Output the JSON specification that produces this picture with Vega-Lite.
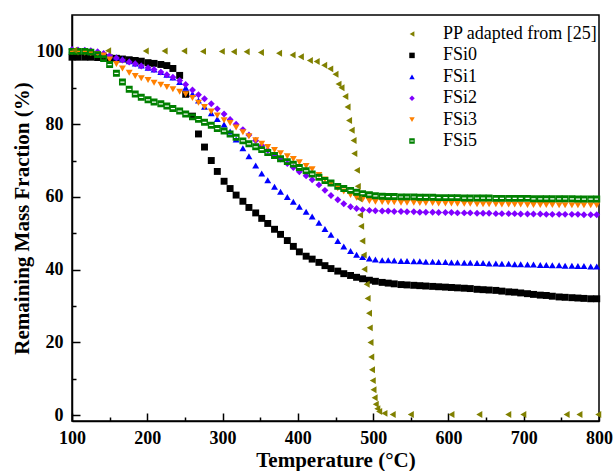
{
  "$schema": "https://vega.github.io/schema/vega-lite/v6.json",
  "autosize": {"type": "none"},
  "width": 527,
  "height": 406,
  "padding": {"left": 72, "top": 15, "right": 14, "bottom": 50},
  "background": "white",
  "config": {
    "font": "Liberation Serif",
    "view": {"stroke": "black", "strokeWidth": 1.5},
    "axis": {"grid": false, "domainColor": "black", "domainWidth": 1.5, "tickColor": "black", "tickWidth": 1.5, "labelColor": "black", "titleColor": "black", "labelFont": "Liberation Serif", "titleFont": "Liberation Serif", "labelFontWeight": "bold", "titleFontWeight": "bold", "labelFontSize": 18, "labelOverlap": false, "labelFlush": false}
  },
  "data": {"values": [
{"s":"FSi0","t":100,"m":98.4},{"s":"FSi0","t":108,"m":98.4},{"s":"FSi0","t":117,"m":98.4},{"s":"FSi0","t":125,"m":98.4},{"s":"FSi0","t":134,"m":98.3},{"s":"FSi0","t":142,"m":98.3},{"s":"FSi0","t":150,"m":98.2},{"s":"FSi0","t":159,"m":98.1},{"s":"FSi0","t":167,"m":97.9},{"s":"FSi0","t":176,"m":97.7},{"s":"FSi0","t":184,"m":97.5},{"s":"FSi0","t":192,"m":97.3},{"s":"FSi0","t":201,"m":96.9},{"s":"FSi0","t":209,"m":96.7},{"s":"FSi0","t":218,"m":96.4},{"s":"FSi0","t":226,"m":96.1},{"s":"FSi0","t":234,"m":95.3},{"s":"FSi0","t":243,"m":93.4},{"s":"FSi0","t":251,"m":88.2},{"s":"FSi0","t":260,"m":82.2},{"s":"FSi0","t":268,"m":77.3},{"s":"FSi0","t":276,"m":73.7},{"s":"FSi0","t":285,"m":70.0},{"s":"FSi0","t":293,"m":67.0},{"s":"FSi0","t":302,"m":64.3},{"s":"FSi0","t":310,"m":62.3},{"s":"FSi0","t":318,"m":60.5},{"s":"FSi0","t":327,"m":58.8},{"s":"FSi0","t":335,"m":57.1},{"s":"FSi0","t":344,"m":55.6},{"s":"FSi0","t":352,"m":54.1},{"s":"FSi0","t":360,"m":52.7},{"s":"FSi0","t":369,"m":51.1},{"s":"FSi0","t":377,"m":49.7},{"s":"FSi0","t":386,"m":48.0},{"s":"FSi0","t":394,"m":46.4},{"s":"FSi0","t":402,"m":44.9},{"s":"FSi0","t":411,"m":43.7},{"s":"FSi0","t":419,"m":42.9},{"s":"FSi0","t":428,"m":42.0},{"s":"FSi0","t":436,"m":41.1},{"s":"FSi0","t":444,"m":40.3},{"s":"FSi0","t":453,"m":39.6},{"s":"FSi0","t":461,"m":38.9},{"s":"FSi0","t":470,"m":38.4},{"s":"FSi0","t":478,"m":37.9},{"s":"FSi0","t":486,"m":37.5},{"s":"FSi0","t":495,"m":37.1},{"s":"FSi0","t":503,"m":36.8},{"s":"FSi0","t":512,"m":36.5},{"s":"FSi0","t":520,"m":36.3},{"s":"FSi0","t":528,"m":36.1},{"s":"FSi0","t":537,"m":35.9},{"s":"FSi0","t":545,"m":35.8},{"s":"FSi0","t":554,"m":35.7},{"s":"FSi0","t":562,"m":35.6},{"s":"FSi0","t":570,"m":35.5},{"s":"FSi0","t":579,"m":35.4},{"s":"FSi0","t":587,"m":35.3},{"s":"FSi0","t":596,"m":35.2},{"s":"FSi0","t":604,"m":35.1},{"s":"FSi0","t":612,"m":35.0},{"s":"FSi0","t":621,"m":34.9},{"s":"FSi0","t":629,"m":34.8},{"s":"FSi0","t":638,"m":34.6},{"s":"FSi0","t":646,"m":34.5},{"s":"FSi0","t":654,"m":34.4},{"s":"FSi0","t":663,"m":34.3},{"s":"FSi0","t":671,"m":34.1},{"s":"FSi0","t":680,"m":33.9},{"s":"FSi0","t":688,"m":33.8},{"s":"FSi0","t":696,"m":33.6},{"s":"FSi0","t":705,"m":33.4},{"s":"FSi0","t":713,"m":33.2},{"s":"FSi0","t":722,"m":33.0},{"s":"FSi0","t":730,"m":32.9},{"s":"FSi0","t":738,"m":32.7},{"s":"FSi0","t":747,"m":32.5},{"s":"FSi0","t":755,"m":32.4},{"s":"FSi0","t":764,"m":32.3},{"s":"FSi0","t":772,"m":32.2},{"s":"FSi0","t":780,"m":32.1},{"s":"FSi0","t":789,"m":32.0},{"s":"FSi0","t":797,"m":32.0},
{"s":"FSi1","t":100,"m":100.5},{"s":"FSi1","t":108,"m":100.4},{"s":"FSi1","t":117,"m":100.3},{"s":"FSi1","t":125,"m":100.1},{"s":"FSi1","t":134,"m":99.8},{"s":"FSi1","t":142,"m":99.4},{"s":"FSi1","t":150,"m":98.9},{"s":"FSi1","t":159,"m":98.4},{"s":"FSi1","t":167,"m":97.9},{"s":"FSi1","t":176,"m":97.3},{"s":"FSi1","t":184,"m":96.7},{"s":"FSi1","t":192,"m":96.1},{"s":"FSi1","t":201,"m":95.5},{"s":"FSi1","t":209,"m":95.0},{"s":"FSi1","t":218,"m":94.3},{"s":"FSi1","t":226,"m":93.6},{"s":"FSi1","t":234,"m":92.8},{"s":"FSi1","t":243,"m":91.6},{"s":"FSi1","t":251,"m":90.0},{"s":"FSi1","t":260,"m":88.3},{"s":"FSi1","t":268,"m":86.5},{"s":"FSi1","t":276,"m":84.8},{"s":"FSi1","t":285,"m":83.0},{"s":"FSi1","t":293,"m":81.4},{"s":"FSi1","t":302,"m":79.9},{"s":"FSi1","t":310,"m":78.0},{"s":"FSi1","t":318,"m":75.8},{"s":"FSi1","t":327,"m":73.4},{"s":"FSi1","t":335,"m":71.2},{"s":"FSi1","t":344,"m":68.6},{"s":"FSi1","t":352,"m":66.4},{"s":"FSi1","t":360,"m":64.6},{"s":"FSi1","t":369,"m":62.8},{"s":"FSi1","t":377,"m":61.4},{"s":"FSi1","t":386,"m":60.0},{"s":"FSi1","t":394,"m":58.7},{"s":"FSi1","t":402,"m":57.3},{"s":"FSi1","t":411,"m":55.9},{"s":"FSi1","t":419,"m":54.6},{"s":"FSi1","t":428,"m":52.9},{"s":"FSi1","t":436,"m":51.2},{"s":"FSi1","t":444,"m":49.6},{"s":"FSi1","t":453,"m":47.9},{"s":"FSi1","t":461,"m":46.4},{"s":"FSi1","t":470,"m":45.1},{"s":"FSi1","t":478,"m":44.1},{"s":"FSi1","t":486,"m":43.5},{"s":"FSi1","t":495,"m":43.1},{"s":"FSi1","t":503,"m":42.8},{"s":"FSi1","t":512,"m":42.6},{"s":"FSi1","t":520,"m":42.6},{"s":"FSi1","t":528,"m":42.5},{"s":"FSi1","t":537,"m":42.4},{"s":"FSi1","t":545,"m":42.4},{"s":"FSi1","t":554,"m":42.3},{"s":"FSi1","t":562,"m":42.3},{"s":"FSi1","t":570,"m":42.2},{"s":"FSi1","t":579,"m":42.2},{"s":"FSi1","t":587,"m":42.1},{"s":"FSi1","t":596,"m":42.1},{"s":"FSi1","t":604,"m":42.0},{"s":"FSi1","t":612,"m":42.0},{"s":"FSi1","t":621,"m":41.9},{"s":"FSi1","t":629,"m":41.9},{"s":"FSi1","t":638,"m":41.8},{"s":"FSi1","t":646,"m":41.8},{"s":"FSi1","t":654,"m":41.7},{"s":"FSi1","t":663,"m":41.7},{"s":"FSi1","t":671,"m":41.6},{"s":"FSi1","t":680,"m":41.6},{"s":"FSi1","t":688,"m":41.5},{"s":"FSi1","t":696,"m":41.5},{"s":"FSi1","t":705,"m":41.4},{"s":"FSi1","t":713,"m":41.4},{"s":"FSi1","t":722,"m":41.3},{"s":"FSi1","t":730,"m":41.3},{"s":"FSi1","t":738,"m":41.2},{"s":"FSi1","t":747,"m":41.2},{"s":"FSi1","t":755,"m":41.1},{"s":"FSi1","t":764,"m":41.1},{"s":"FSi1","t":772,"m":41.0},{"s":"FSi1","t":780,"m":41.0},{"s":"FSi1","t":789,"m":40.9},{"s":"FSi1","t":797,"m":40.9},
{"s":"FSi2","t":100,"m":100.5},{"s":"FSi2","t":108,"m":100.4},{"s":"FSi2","t":117,"m":100.3},{"s":"FSi2","t":125,"m":100.2},{"s":"FSi2","t":134,"m":99.9},{"s":"FSi2","t":142,"m":99.4},{"s":"FSi2","t":150,"m":98.8},{"s":"FSi2","t":159,"m":98.2},{"s":"FSi2","t":167,"m":97.6},{"s":"FSi2","t":176,"m":97.1},{"s":"FSi2","t":184,"m":96.6},{"s":"FSi2","t":192,"m":96.0},{"s":"FSi2","t":201,"m":95.5},{"s":"FSi2","t":209,"m":95.0},{"s":"FSi2","t":218,"m":94.3},{"s":"FSi2","t":226,"m":93.6},{"s":"FSi2","t":234,"m":92.9},{"s":"FSi2","t":243,"m":92.0},{"s":"FSi2","t":251,"m":90.9},{"s":"FSi2","t":260,"m":89.4},{"s":"FSi2","t":268,"m":88.1},{"s":"FSi2","t":276,"m":87.0},{"s":"FSi2","t":285,"m":85.6},{"s":"FSi2","t":293,"m":84.2},{"s":"FSi2","t":302,"m":82.8},{"s":"FSi2","t":310,"m":81.3},{"s":"FSi2","t":318,"m":80.0},{"s":"FSi2","t":327,"m":78.5},{"s":"FSi2","t":335,"m":77.0},{"s":"FSi2","t":344,"m":75.5},{"s":"FSi2","t":352,"m":74.1},{"s":"FSi2","t":360,"m":72.8},{"s":"FSi2","t":369,"m":71.6},{"s":"FSi2","t":377,"m":70.4},{"s":"FSi2","t":386,"m":69.2},{"s":"FSi2","t":394,"m":68.1},{"s":"FSi2","t":402,"m":66.9},{"s":"FSi2","t":411,"m":65.8},{"s":"FSi2","t":419,"m":64.7},{"s":"FSi2","t":428,"m":63.3},{"s":"FSi2","t":436,"m":61.8},{"s":"FSi2","t":444,"m":60.4},{"s":"FSi2","t":453,"m":59.2},{"s":"FSi2","t":461,"m":58.1},{"s":"FSi2","t":470,"m":57.3},{"s":"FSi2","t":478,"m":56.8},{"s":"FSi2","t":486,"m":56.5},{"s":"FSi2","t":495,"m":56.3},{"s":"FSi2","t":503,"m":56.2},{"s":"FSi2","t":512,"m":56.1},{"s":"FSi2","t":520,"m":56.1},{"s":"FSi2","t":528,"m":56.0},{"s":"FSi2","t":537,"m":56.0},{"s":"FSi2","t":545,"m":55.9},{"s":"FSi2","t":554,"m":55.9},{"s":"FSi2","t":562,"m":55.8},{"s":"FSi2","t":570,"m":55.8},{"s":"FSi2","t":579,"m":55.8},{"s":"FSi2","t":587,"m":55.7},{"s":"FSi2","t":596,"m":55.7},{"s":"FSi2","t":604,"m":55.7},{"s":"FSi2","t":612,"m":55.6},{"s":"FSi2","t":621,"m":55.6},{"s":"FSi2","t":629,"m":55.6},{"s":"FSi2","t":638,"m":55.5},{"s":"FSi2","t":646,"m":55.5},{"s":"FSi2","t":654,"m":55.5},{"s":"FSi2","t":663,"m":55.4},{"s":"FSi2","t":671,"m":55.4},{"s":"FSi2","t":680,"m":55.4},{"s":"FSi2","t":688,"m":55.4},{"s":"FSi2","t":696,"m":55.3},{"s":"FSi2","t":705,"m":55.3},{"s":"FSi2","t":713,"m":55.3},{"s":"FSi2","t":722,"m":55.3},{"s":"FSi2","t":730,"m":55.2},{"s":"FSi2","t":738,"m":55.2},{"s":"FSi2","t":747,"m":55.2},{"s":"FSi2","t":755,"m":55.2},{"s":"FSi2","t":764,"m":55.2},{"s":"FSi2","t":772,"m":55.2},{"s":"FSi2","t":780,"m":55.1},{"s":"FSi2","t":789,"m":55.1},{"s":"FSi2","t":797,"m":55.1},
{"s":"FSi3","t":100,"m":99.8},{"s":"FSi3","t":108,"m":99.7},{"s":"FSi3","t":117,"m":99.6},{"s":"FSi3","t":125,"m":99.5},{"s":"FSi3","t":134,"m":99.3},{"s":"FSi3","t":142,"m":98.9},{"s":"FSi3","t":150,"m":97.8},{"s":"FSi3","t":159,"m":96.5},{"s":"FSi3","t":167,"m":95.3},{"s":"FSi3","t":176,"m":94.1},{"s":"FSi3","t":184,"m":93.2},{"s":"FSi3","t":192,"m":92.6},{"s":"FSi3","t":201,"m":92.1},{"s":"FSi3","t":209,"m":91.4},{"s":"FSi3","t":218,"m":90.8},{"s":"FSi3","t":226,"m":90.2},{"s":"FSi3","t":234,"m":89.6},{"s":"FSi3","t":243,"m":88.9},{"s":"FSi3","t":251,"m":88.2},{"s":"FSi3","t":260,"m":87.2},{"s":"FSi3","t":268,"m":85.9},{"s":"FSi3","t":276,"m":84.7},{"s":"FSi3","t":285,"m":83.5},{"s":"FSi3","t":293,"m":82.4},{"s":"FSi3","t":302,"m":81.1},{"s":"FSi3","t":310,"m":80.3},{"s":"FSi3","t":318,"m":79.1},{"s":"FSi3","t":327,"m":77.8},{"s":"FSi3","t":335,"m":76.7},{"s":"FSi3","t":344,"m":75.6},{"s":"FSi3","t":352,"m":74.6},{"s":"FSi3","t":360,"m":73.7},{"s":"FSi3","t":369,"m":72.9},{"s":"FSi3","t":377,"m":72.0},{"s":"FSi3","t":386,"m":71.2},{"s":"FSi3","t":394,"m":70.4},{"s":"FSi3","t":402,"m":69.5},{"s":"FSi3","t":411,"m":68.5},{"s":"FSi3","t":419,"m":67.6},{"s":"FSi3","t":428,"m":66.0},{"s":"FSi3","t":436,"m":64.8},{"s":"FSi3","t":444,"m":63.6},{"s":"FSi3","t":453,"m":62.4},{"s":"FSi3","t":461,"m":61.5},{"s":"FSi3","t":470,"m":60.5},{"s":"FSi3","t":478,"m":59.8},{"s":"FSi3","t":486,"m":59.3},{"s":"FSi3","t":495,"m":58.9},{"s":"FSi3","t":503,"m":58.7},{"s":"FSi3","t":512,"m":58.6},{"s":"FSi3","t":520,"m":58.5},{"s":"FSi3","t":528,"m":58.5},{"s":"FSi3","t":537,"m":58.4},{"s":"FSi3","t":545,"m":58.4},{"s":"FSi3","t":554,"m":58.4},{"s":"FSi3","t":562,"m":58.3},{"s":"FSi3","t":570,"m":58.3},{"s":"FSi3","t":579,"m":58.3},{"s":"FSi3","t":587,"m":58.2},{"s":"FSi3","t":596,"m":58.2},{"s":"FSi3","t":604,"m":58.2},{"s":"FSi3","t":612,"m":58.1},{"s":"FSi3","t":621,"m":58.1},{"s":"FSi3","t":629,"m":58.1},{"s":"FSi3","t":638,"m":58.0},{"s":"FSi3","t":646,"m":58.0},{"s":"FSi3","t":654,"m":58.0},{"s":"FSi3","t":663,"m":58.0},{"s":"FSi3","t":671,"m":57.9},{"s":"FSi3","t":680,"m":57.9},{"s":"FSi3","t":688,"m":57.9},{"s":"FSi3","t":696,"m":57.9},{"s":"FSi3","t":705,"m":57.8},{"s":"FSi3","t":713,"m":57.8},{"s":"FSi3","t":722,"m":57.8},{"s":"FSi3","t":730,"m":57.8},{"s":"FSi3","t":738,"m":57.8},{"s":"FSi3","t":747,"m":57.7},{"s":"FSi3","t":755,"m":57.7},{"s":"FSi3","t":764,"m":57.7},{"s":"FSi3","t":772,"m":57.7},{"s":"FSi3","t":780,"m":57.7},{"s":"FSi3","t":789,"m":57.7},{"s":"FSi3","t":797,"m":57.7},
{"s":"FSi5","t":100,"m":100.0},{"s":"FSi5","t":108,"m":100.0},{"s":"FSi5","t":117,"m":100.0},{"s":"FSi5","t":125,"m":99.8},{"s":"FSi5","t":134,"m":99.1},{"s":"FSi5","t":142,"m":98.0},{"s":"FSi5","t":150,"m":96.4},{"s":"FSi5","t":159,"m":94.0},{"s":"FSi5","t":167,"m":91.6},{"s":"FSi5","t":176,"m":89.6},{"s":"FSi5","t":184,"m":88.3},{"s":"FSi5","t":192,"m":87.4},{"s":"FSi5","t":201,"m":86.7},{"s":"FSi5","t":209,"m":86.1},{"s":"FSi5","t":218,"m":85.6},{"s":"FSi5","t":226,"m":85.0},{"s":"FSi5","t":234,"m":84.3},{"s":"FSi5","t":243,"m":83.6},{"s":"FSi5","t":251,"m":82.8},{"s":"FSi5","t":260,"m":82.0},{"s":"FSi5","t":268,"m":81.3},{"s":"FSi5","t":276,"m":80.5},{"s":"FSi5","t":285,"m":79.7},{"s":"FSi5","t":293,"m":78.8},{"s":"FSi5","t":302,"m":78.1},{"s":"FSi5","t":310,"m":77.3},{"s":"FSi5","t":318,"m":76.4},{"s":"FSi5","t":327,"m":75.4},{"s":"FSi5","t":335,"m":74.6},{"s":"FSi5","t":344,"m":73.8},{"s":"FSi5","t":352,"m":73.0},{"s":"FSi5","t":360,"m":72.2},{"s":"FSi5","t":369,"m":71.4},{"s":"FSi5","t":377,"m":70.5},{"s":"FSi5","t":386,"m":69.7},{"s":"FSi5","t":394,"m":69.0},{"s":"FSi5","t":402,"m":68.1},{"s":"FSi5","t":411,"m":67.2},{"s":"FSi5","t":419,"m":66.3},{"s":"FSi5","t":428,"m":65.4},{"s":"FSi5","t":436,"m":64.5},{"s":"FSi5","t":444,"m":63.8},{"s":"FSi5","t":453,"m":62.9},{"s":"FSi5","t":461,"m":62.3},{"s":"FSi5","t":470,"m":61.8},{"s":"FSi5","t":478,"m":61.3},{"s":"FSi5","t":486,"m":60.9},{"s":"FSi5","t":495,"m":60.6},{"s":"FSi5","t":503,"m":60.3},{"s":"FSi5","t":512,"m":60.2},{"s":"FSi5","t":520,"m":60.1},{"s":"FSi5","t":528,"m":60.1},{"s":"FSi5","t":537,"m":60.0},{"s":"FSi5","t":545,"m":60.0},{"s":"FSi5","t":554,"m":60.0},{"s":"FSi5","t":562,"m":59.9},{"s":"FSi5","t":570,"m":59.9},{"s":"FSi5","t":579,"m":59.9},{"s":"FSi5","t":587,"m":59.8},{"s":"FSi5","t":596,"m":59.8},{"s":"FSi5","t":604,"m":59.8},{"s":"FSi5","t":612,"m":59.8},{"s":"FSi5","t":621,"m":59.7},{"s":"FSi5","t":629,"m":59.7},{"s":"FSi5","t":638,"m":59.7},{"s":"FSi5","t":646,"m":59.7},{"s":"FSi5","t":654,"m":59.7},{"s":"FSi5","t":663,"m":59.6},{"s":"FSi5","t":671,"m":59.6},{"s":"FSi5","t":680,"m":59.6},{"s":"FSi5","t":688,"m":59.6},{"s":"FSi5","t":696,"m":59.6},{"s":"FSi5","t":705,"m":59.6},{"s":"FSi5","t":713,"m":59.5},{"s":"FSi5","t":722,"m":59.5},{"s":"FSi5","t":730,"m":59.5},{"s":"FSi5","t":738,"m":59.5},{"s":"FSi5","t":747,"m":59.5},{"s":"FSi5","t":755,"m":59.5},{"s":"FSi5","t":764,"m":59.5},{"s":"FSi5","t":772,"m":59.4},{"s":"FSi5","t":780,"m":59.4},{"s":"FSi5","t":789,"m":59.4},{"s":"FSi5","t":797,"m":59.4},
{"s":"PP adapted from [25]","t":103,"m":100.3},{"s":"PP adapted from [25]","t":148,"m":100.2},{"s":"PP adapted from [25]","t":198,"m":100.1},{"s":"PP adapted from [25]","t":223,"m":100.1},{"s":"PP adapted from [25]","t":249,"m":100.1},{"s":"PP adapted from [25]","t":274,"m":100.0},{"s":"PP adapted from [25]","t":299,"m":100.0},{"s":"PP adapted from [25]","t":315,"m":99.9},{"s":"PP adapted from [25]","t":332,"m":99.9},{"s":"PP adapted from [25]","t":351,"m":99.7},{"s":"PP adapted from [25]","t":375,"m":99.5},{"s":"PP adapted from [25]","t":393,"m":99.0},{"s":"PP adapted from [25]","t":404,"m":98.5},{"s":"PP adapted from [25]","t":416,"m":97.5},{"s":"PP adapted from [25]","t":425,"m":97.2},{"s":"PP adapted from [25]","t":435,"m":96.2},{"s":"PP adapted from [25]","t":443,"m":95.2},{"s":"PP adapted from [25]","t":450,"m":93.7},{"s":"PP adapted from [25]","t":454,"m":91.0},{"s":"PP adapted from [25]","t":458,"m":90.0},{"s":"PP adapted from [25]","t":463,"m":87.6},{"s":"PP adapted from [25]","t":466,"m":84.7},{"s":"PP adapted from [25]","t":468,"m":81.0},{"s":"PP adapted from [25]","t":471.5,"m":78.3},{"s":"PP adapted from [25]","t":474,"m":75.5},{"s":"PP adapted from [25]","t":475,"m":71.9},{"s":"PP adapted from [25]","t":478.5,"m":67.3},{"s":"PP adapted from [25]","t":479.6,"m":62.9},{"s":"PP adapted from [25]","t":481.5,"m":59.5},{"s":"PP adapted from [25]","t":482.6,"m":55.0},{"s":"PP adapted from [25]","t":484,"m":51.9},{"s":"PP adapted from [25]","t":485.6,"m":47.9},{"s":"PP adapted from [25]","t":487.4,"m":44.0},{"s":"PP adapted from [25]","t":488.3,"m":40.1},{"s":"PP adapted from [25]","t":491.4,"m":36.0},{"s":"PP adapted from [25]","t":492.7,"m":32.1},{"s":"PP adapted from [25]","t":494.5,"m":28.0},{"s":"PP adapted from [25]","t":495.5,"m":24.0},{"s":"PP adapted from [25]","t":496.5,"m":20.0},{"s":"PP adapted from [25]","t":497.5,"m":16.0},{"s":"PP adapted from [25]","t":498.5,"m":12.5},{"s":"PP adapted from [25]","t":499.5,"m":9.5},{"s":"PP adapted from [25]","t":500.5,"m":7.0},{"s":"PP adapted from [25]","t":502,"m":4.8},{"s":"PP adapted from [25]","t":503.5,"m":3.0},{"s":"PP adapted from [25]","t":505.5,"m":1.8},{"s":"PP adapted from [25]","t":508,"m":1.0},{"s":"PP adapted from [25]","t":515,"m":0.5},{"s":"PP adapted from [25]","t":526,"m":0.2},{"s":"PP adapted from [25]","t":550,"m":0.2},{"s":"PP adapted from [25]","t":604,"m":0.2},{"s":"PP adapted from [25]","t":641,"m":0.2},{"s":"PP adapted from [25]","t":679.5,"m":0.2},{"s":"PP adapted from [25]","t":699.5,"m":0.2},{"s":"PP adapted from [25]","t":757,"m":0.2},{"s":"PP adapted from [25]","t":774,"m":0.2},{"s":"PP adapted from [25]","t":799,"m":0.2}
  ]},
  "mark": {"type": "point", "filled": true, "opacity": 1, "size": 48, "strokeWidth": 0},
  "encoding": {
    "x": {"field": "t", "type": "quantitative", "scale": {"domain": [100, 800], "nice": false, "zero": false},
      "axis": {"title": "Temperature (°C)", "titleFontSize": 21, "titlePadding": -2, "values": [100,150,200,250,300,350,400,450,500,550,600,650,700,750,800],
        "labelExpr": "datum.value % 100 === 0 ? datum.label : ''",
        "tickSize": {"condition": {"test": "datum.value % 100 === 0", "value": -8}, "value": -4},
        "labelPadding": 16}},
    "y": {"field": "m", "type": "quantitative", "scale": {"domain": [-1.6, 110], "nice": false, "zero": false},
      "axis": {"title": "Remaining Mass Fraction (%)", "titleFontSize": 21, "titlePadding": 4, "values": [0,10,20,30,40,50,60,70,80,90,100],
        "labelExpr": "datum.value % 20 === 0 ? datum.label : ''",
        "tickSize": {"condition": {"test": "datum.value % 20 === 0", "value": -8}, "value": -4},
        "labelPadding": 17}},
    "color": {"field": "s", "type": "nominal",
      "scale": {"domain": ["PP adapted from [25]", "FSi0", "FSi1", "FSi2", "FSi3", "FSi5"], "range": ["#808000", "#000000", "#0000ff", "#8000ff", "#ff8000", "#008000"]},
      "legend": {"title": null, "orient": "none", "legendX": 331, "legendY": 10, "padding": 0, "labelFontSize": 18, "labelFont": "Liberation Serif", "labelColor": "black", "symbolSize": 30, "labelOffset": 22, "rowPadding": 3.4, "symbolStrokeWidth": 0}},
    "shape": {"field": "s", "type": "nominal",
      "scale": {"domain": ["PP adapted from [25]", "FSi0", "FSi1", "FSi2", "FSi3", "FSi5"], "range": ["triangle-left", "square", "triangle-up", "diamond", "triangle-down", "M-1,-1H1V1H-1Z M-0.6,-0.15V0.2H0.6V-0.15Z"]}}
  }
}
